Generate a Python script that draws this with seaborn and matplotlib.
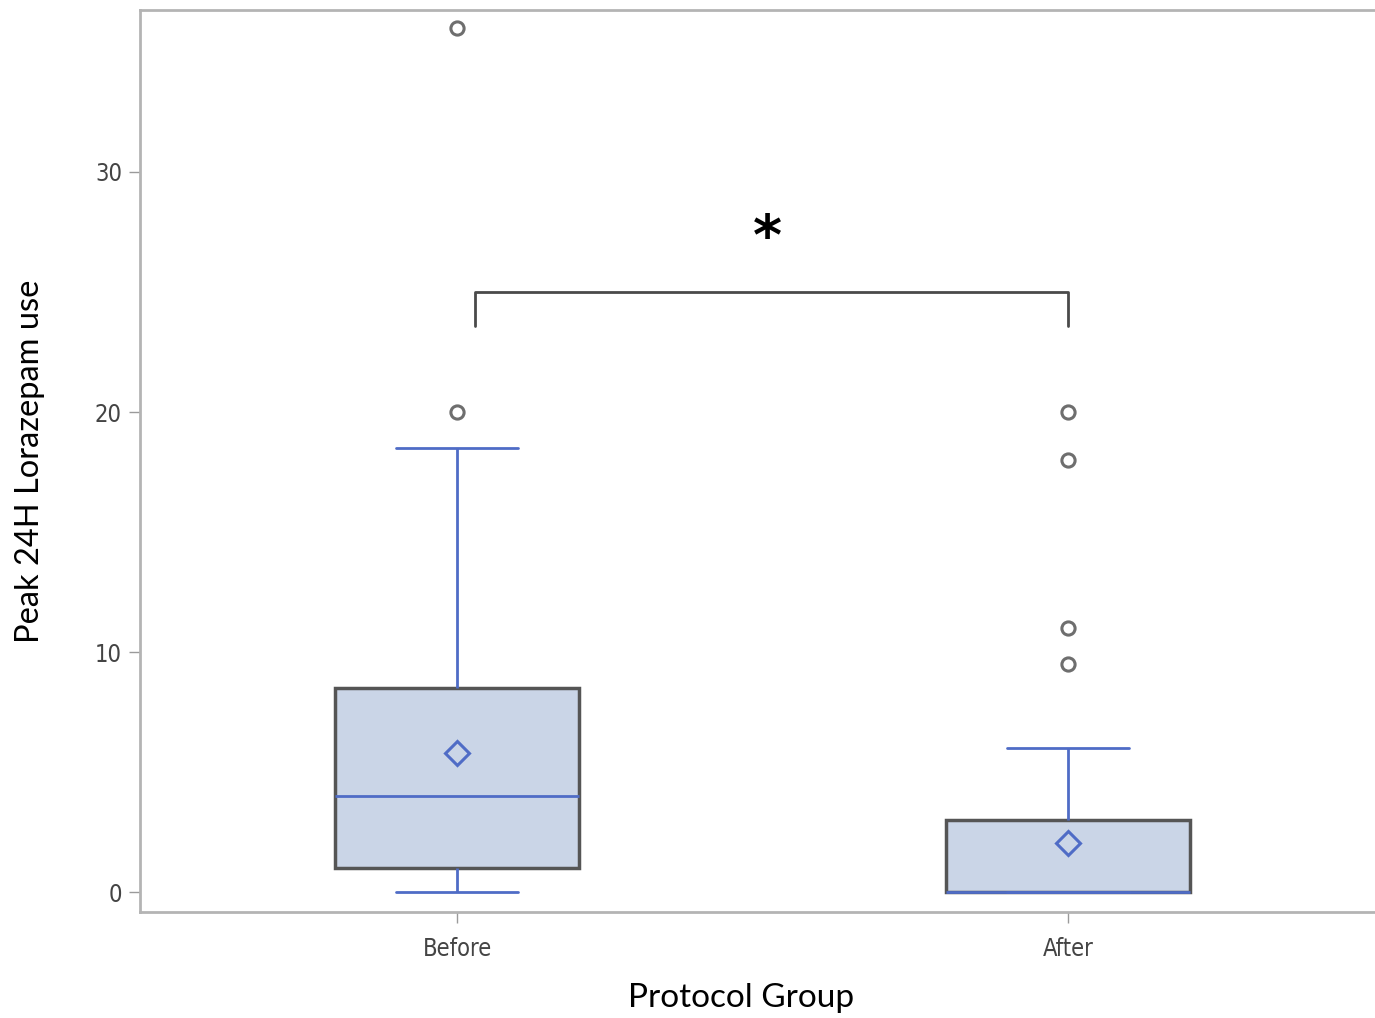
import pandas as pd
import matplotlib.pyplot as plt
import seaborn as sns

# Peak 24H lorazepam use per patient, before / after protocol
before_values = [0, 0, 0, 0, 0, 0.5, 0.5, 1, 1, 1, 1,
                 1, 1.5, 2, 2, 2, 3, 3, 3, 4, 4,
                 4, 4, 4, 5, 5, 6, 6, 7, 8, 8.5,
                 8.5, 9, 9, 10, 11, 12, 16,
                 18.5, 20, 36]
after_values = [0] * 25 + [0, 0, 0.5, 0.5, 1, 1, 1, 1, 1, 2, 2, 3,
                           3, 3, 3, 3, 3, 4, 4, 6,
                           9.5, 11, 18, 20]
groups = ["Before", "After"]
y_ticks = [0, 10, 20, 30]

df = pd.DataFrame({
    "group": ["Before"] * len(before_values) + ["After"] * len(after_values),
    "value": before_values + after_values,
})

sns.set_style("white")

face = "#cad5e7"
edge = "#555555"
blue = "#4f6cc6"
grey_axis = "#b4b4b4"

fig = plt.figure(figsize=(13.75, 10.18), dpi=100)
ax = fig.add_axes([0.1018, 0.1041, 0.8982, 0.8861])

sns.boxplot(data=df, x="group", y="value", order=groups, width=0.4,
            color=face, saturation=1, linecolor=edge, linewidth=2.5,
            showmeans=True,
            whiskerprops=dict(color=blue, linewidth=2),
            capprops=dict(color=blue, linewidth=2),
            medianprops=dict(color=blue, linewidth=2),
            meanprops=dict(marker="D", markerfacecolor="none",
                           markeredgecolor=blue, markeredgewidth=2.2,
                           markersize=12.5),
            flierprops=dict(marker="o", markerfacecolor="none",
                            markeredgecolor="#6e6e6e", markeredgewidth=2.2,
                            markersize=9.5),
            ax=ax)

ax.set_xlim(-0.519, 1.502)
ax.set_ylim(-0.83, 36.75)
ax.set_yticks(y_ticks)

for s in ax.spines.values():
    s.set_color(grey_axis)
    s.set_linewidth(2)
ax.spines["right"].set_visible(False)

ax.tick_params(axis="both", direction="out", length=8, width=1,
               color="#9a9a9a", labelcolor="#444444", labelsize=17)
ax.tick_params(axis="x", pad=10)
ax.tick_params(axis="y", pad=5)
ax.tick_params(left=True, bottom=True)
for lab in ax.get_xticklabels() + ax.get_yticklabels():
    lab.set_family("DejaVu Sans")
    lab.set_fontstretch("condensed")

ax.set_xlabel("Protocol Group", fontsize=24, family="Lato", color="black")
ax.set_ylabel("Peak 24H Lorazepam use", fontsize=23.5, family="Lato", color="black")
ax.xaxis.set_label_coords(0.487, -0.0953)
ax.xaxis.label.set_va("center")
ax.yaxis.set_label_coords(-0.089, 0.5)
ax.yaxis.label.set_va("center")

# significance bracket
ax.plot([0.03, 0.03, 1.0, 1.0], [23.6, 25, 25, 23.6], color="#4a4a4a", lw=2,
        solid_joinstyle="round")
ax.text(0.507, 27.2, "*", ha="center", va="center", fontsize=40,
        fontweight="bold", color="black")

fig.savefig("out.png", dpi=100)
